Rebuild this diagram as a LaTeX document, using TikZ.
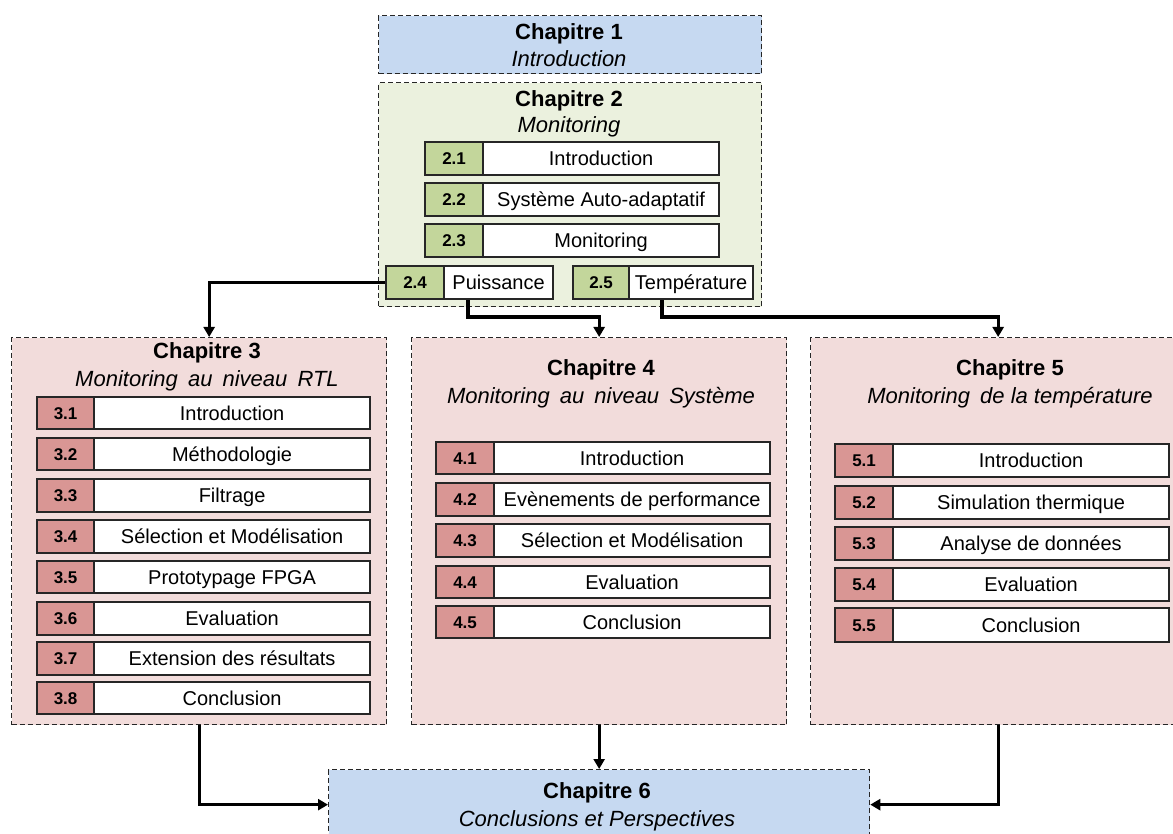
\documentclass[tikz,border=0pt]{standalone}
\usepackage{fontspec}
\setmainfont{Liberation Sans}
\usetikzlibrary{arrows.meta,calc}
\definecolor{cblue}{HTML}{C6D9F1}
\definecolor{cgreenbg}{HTML}{EBF1DE}
\definecolor{cgreen}{HTML}{C3D69B}
\definecolor{cpink}{HTML}{F2DCDB}
\definecolor{cpinknum}{HTML}{D99694}
\newcommand\srow[9]{%
 \node[numbox,fill=#9,minimum width={(#3-#2)*1pt},minimum height={(#6-#5)*1pt}] (#1n) at (#2,#5) {#7};
 \node[txtbox,minimum width={(#4-#3)*1pt},minimum height={(#6-#5)*1pt}] (#1t) at (#3,#5) {#8};}
\begin{document}
\begin{tikzpicture}[x=1pt,y=-1pt,
  chapbox/.style={draw=black!85,dash pattern=on 5pt off 3pt,line width=1.3pt,anchor=north west,inner sep=0pt},
  numbox/.style={draw=black!85,line width=2.2pt,anchor=north west,inner sep=0pt,text height=12.2pt,text depth=0pt,font=\bfseries\fontsize{17}{19}\selectfont},
  txtbox/.style={draw=black!85,line width=2.2pt,anchor=north west,inner sep=0pt,fill=white,text height=14.3pt,text depth=0pt,font=\fontsize{20}{22}\selectfont},
  ttl/.style={font=\bfseries\fontsize{22}{24}\selectfont,inner sep=0pt,anchor=base},
  sub/.style={font=\itshape\fontsize{22}{24}\selectfont,inner sep=0pt,anchor=base},
  conn/.style={line width=3.2pt,-{Triangle[length=10pt,width=11pt]}}]
\useasboundingbox (0,0) rectangle (1173,834);
% chapter boxes
\node[chapbox,fill=cblue,minimum width=383pt,minimum height=58pt] (ch1) at (378,15) {};
\node[chapbox,fill=cgreenbg,minimum width=383pt,minimum height=224pt] (ch2) at (378,82) {};
\node[chapbox,fill=cpink,minimum width=375pt,minimum height=387pt] (ch3) at (11,337) {};
\node[chapbox,fill=cpink,minimum width=375pt,minimum height=387pt] (ch4) at (411,337) {};
\node[chapbox,fill=cpink,minimum width=375pt,minimum height=387pt] (ch5) at (810,337) {};
\node[chapbox,fill=cblue,minimum width=541pt,minimum height=70pt] (ch6) at (328,769) {};
% titles
\node[ttl] (t1) at (569,40) {Chapitre 1};
\node[sub] (s1) at (569,67) {Introduction};
\node[ttl] (t2) at (569,107) {Chapitre 2};
\node[sub] (s2) at (569,133) {Monitoring};
\node[ttl] (t3) at (207,359) {Chapitre 3};
\node[sub] (s3) at (207,386) {Monitoring\hspace{4pt} au\hspace{4pt} niveau\hspace{4pt} RTL};
\node[ttl] (t4) at (601,375) {Chapitre 4};
\node[sub] (s4) at (601,403) {Monitoring\hspace{4pt} au\hspace{4pt} niveau\hspace{4pt} Système};
\node[ttl] (t5) at (1010,375) {Chapitre 5};
\node[sub] (s5) at (1010,403) {Monitoring\hspace{4pt} de la température};
\node[ttl] (t6) at (597,798) {Chapitre 6};
\node[sub] (s6) at (597,826) {Conclusions et Perspectives};
% chapter 2 rows
\srow{r21}{424}{482}{718}{141}{174}{2.1}{Introduction}{cgreen}
\srow{r22}{424}{482}{718}{182}{215}{2.2}{Système Auto-adaptatif}{cgreen}
\srow{r23}{424}{482}{718}{223}{256}{2.3}{Monitoring}{cgreen}
\srow{r24}{385}{443}{552}{265}{298}{2.4}{Puissance}{cgreen}
\srow{r25}{572}{628}{752}{265}{298}{2.5}{Température}{cgreen}
% chapter 3 rows
\srow{r31}{36}{93}{369}{396}{428}{3.1}{Introduction}{cpinknum}
\srow{r32}{36}{93}{369}{437}{469}{3.2}{Méthodologie}{cpinknum}
\srow{r33}{36}{93}{369}{478}{511}{3.3}{Filtrage}{cpinknum}
\srow{r34}{36}{93}{369}{519}{552}{3.4}{Sélection et Modélisation}{cpinknum}
\srow{r35}{36}{93}{369}{560}{592}{3.5}{Prototypage FPGA}{cpinknum}
\srow{r36}{36}{93}{369}{601}{634}{3.6}{Evaluation}{cpinknum}
\srow{r37}{36}{93}{369}{641}{674}{3.7}{Extension des résultats}{cpinknum}
\srow{r38}{36}{93}{369}{681}{713}{3.8}{Conclusion}{cpinknum}
% chapter 4 rows
\srow{r41}{435}{493}{769}{441}{473}{4.1}{Introduction}{cpinknum}
\srow{r42}{435}{493}{769}{482}{515}{4.2}{Evènements de performance}{cpinknum}
\srow{r43}{435}{493}{769}{523}{556}{4.3}{Sélection et Modélisation}{cpinknum}
\srow{r44}{435}{493}{769}{565}{597}{4.4}{Evaluation}{cpinknum}
\srow{r45}{435}{493}{769}{605}{637}{4.5}{Conclusion}{cpinknum}
% chapter 5 rows
\srow{r51}{834}{892}{1168}{443}{476}{5.1}{Introduction}{cpinknum}
\srow{r52}{834}{892}{1168}{485}{518}{5.2}{Simulation thermique}{cpinknum}
\srow{r53}{834}{892}{1168}{526}{559}{5.3}{Analyse de données}{cpinknum}
\srow{r54}{834}{892}{1168}{567}{600}{5.4}{Evaluation}{cpinknum}
\srow{r55}{834}{892}{1168}{607}{641}{5.5}{Conclusion}{cpinknum}
% connectors
\draw[conn] (r24n.west) -| ($(ch3.north)+(10,0)$);
\draw[conn] ($(r24t.south west)+(25,0)$) |- ($(ch4.north)+(0,-20)$) -- (ch4.north);
\draw[conn] ($(r25t.south west)+(34,0)$) |- ($(ch5.north)+(0,-20)$) -- (ch5.north);
\draw[conn] (ch3.south) |- (ch6.west);
\draw[conn] (ch4.south) -- (ch6.north);
\draw[conn] (ch5.south) |- (ch6.east);
\end{tikzpicture}
\end{document}
